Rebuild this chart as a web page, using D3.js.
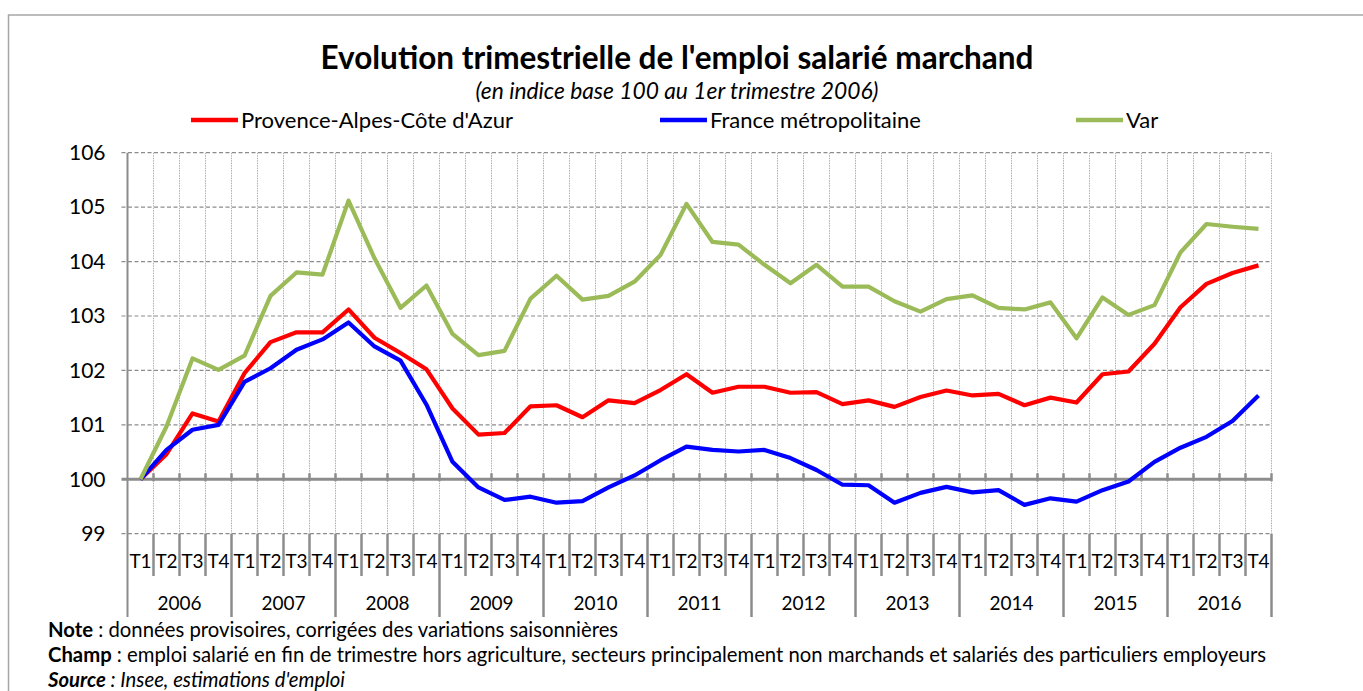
<!DOCTYPE html>
<html>
<head>
<meta charset="utf-8">
<script src="https://cdn.jsdelivr.net/npm/d3@7"></script>
<style>
  body { margin: 0; background: #fff; }
  svg { display: block; font-family: Lato, "Open Sans", sans-serif; }
</style>
</head>
<body>
<div id="chart"></div>
<script>
// Evolution trimestrielle de l'emploi salarié marchand, base 100 au T1 2006

const years = ["2006", "2007", "2008", "2009", "2010", "2011", "2012", "2013", "2014", "2015", "2016"]
const quarters = ["T1", "T2", "T3", "T4"]
const yTicks = [99, 100, 101, 102, 103, 104, 105, 106]

const paca = [
  100, 100.46, 101.21, 101.06,
  101.95, 102.52, 102.70, 102.70,
  103.12, 102.60, 102.32, 102.02,
  101.30, 100.82, 100.85, 101.34,
  101.36, 101.14, 101.45, 101.40,
  101.64, 101.93, 101.59, 101.70,
  101.70, 101.59, 101.60, 101.38,
  101.45, 101.33, 101.51, 101.63,
  101.54, 101.57, 101.36, 101.50,
  101.41, 101.93, 101.98, 102.49,
  103.16, 103.59, 103.79, 103.93]

const france = [
  100, 100.54, 100.91, 101.00,
  101.79, 102.04, 102.38, 102.57,
  102.88, 102.44, 102.18, 101.37,
  100.32, 99.85, 99.62, 99.68,
  99.57, 99.60, 99.85, 100.07,
  100.35, 100.60, 100.54, 100.51,
  100.54, 100.39, 100.17, 99.90,
  99.89, 99.57, 99.75, 99.86,
  99.76, 99.80, 99.53, 99.65,
  99.59, 99.80, 99.96, 100.32,
  100.58, 100.78, 101.07, 101.54]

const varDep = [
  100, 100.97, 102.22, 102.01,
  102.27, 103.37, 103.80, 103.76,
  105.12, 104.06, 103.15, 103.56,
  102.67, 102.28, 102.36, 103.32,
  103.74, 103.30, 103.37, 103.63,
  104.12, 105.06, 104.36, 104.31,
  103.94, 103.60, 103.94, 103.54,
  103.54, 103.27, 103.08, 103.31,
  103.38, 103.15, 103.12, 103.25,
  102.59, 103.34, 103.02, 103.20,
  104.17, 104.69, 104.64, 104.60]

const seriesNames = ["Provence-Alpes-Côte d'Azur", "France métropolitaine", "Var"]
const seriesColors = ["#ff0000", "#0000ff", "#9bbb59"]
const seriesValues = [paca, france, varDep]

const W = 1363, H = 691
const plot = {left: 127.5, right: 1271.5, top: 152.7, bottom: 533.7}

const svg = d3.select("#chart").append("svg")
    .attr("width", W)
    .attr("height", H)

// outer frame
svg.append("rect")
    .attr("x", 8.5).attr("y", 15)
    .attr("width", 1400).attr("height", 720)
    .style("fill", "none")
    .style("stroke", "#a6a6a6")
    .style("stroke-width", 1.5)

// category keys
const keys = []
years.forEach(y => quarters.forEach(q => keys.push(y + q)))

const x = d3.scaleBand()
    .domain(keys)
    .range([plot.left, plot.right])
    .padding(0)
const bw = x.bandwidth()
const xc = i => x(keys[i]) + bw / 2
const bound = d => d == "end" ? plot.right : x(d)
const bounds = keys.slice(1).concat(["end"])

const y = d3.scaleLinear()
    .domain([99, 106])
    .range([plot.bottom, plot.top])

// vertical dotted grid at quarter boundaries
svg.append("g")
    .selectAll("line")
    .data(bounds)
    .enter()
    .append("line")
    .attr("x1", bound)
    .attr("x2", bound)
    .attr("y1", plot.top)
    .attr("y2", plot.bottom)
    .style("stroke", "#b0b0b0")
    .style("stroke-width", 1)
    .style("stroke-dasharray", "1.5,1")

// horizontal dashed grid
svg.append("g")
    .selectAll("line")
    .data(yTicks.filter(d => d != 100))
    .enter()
    .append("line")
    .attr("x1", plot.left - 6)
    .attr("x2", plot.right)
    .attr("y1", d => y(d))
    .attr("y2", d => y(d))
    .style("stroke", "#8c8c8c")
    .style("stroke-width", 1.2)
    .style("stroke-dasharray", "4,2.5")

// y axis labels
const yAxis = svg.append("g")
    .attr("transform", "translate(" + plot.left + ",0)")
    .call(d3.axisLeft(y).tickValues(yTicks).tickSize(0).tickPadding(22).tickFormat(d3.format("d")))
yAxis.select(".domain").remove()
yAxis.selectAll("text")
    .style("font-size", "21px")
    .style("font-family", "Lato, sans-serif")
    .style("fill", "#000")

// y axis line, running down through the category labels
svg.append("line")
    .attr("x1", plot.left).attr("x2", plot.left)
    .attr("y1", plot.top).attr("y2", 617)
    .style("stroke", "#8c8c8c")
    .style("stroke-width", 2)

// axis at 100 with ticks
const y100 = y(100)
svg.append("line")
    .attr("x1", plot.left - 6).attr("x2", plot.right)
    .attr("y1", y100).attr("y2", y100)
    .style("stroke", "#8c8c8c")
    .style("stroke-width", 3)
svg.append("g")
    .selectAll("line")
    .data(bounds)
    .enter()
    .append("line")
    .attr("x1", bound)
    .attr("x2", bound)
    .attr("y1", y100 - 6)
    .attr("y2", y100 + 2)
    .style("stroke", "#8c8c8c")
    .style("stroke-width", 2.5)

// quarter separators below the plot, longer at year boundaries
svg.append("g")
    .selectAll("line")
    .data(bounds)
    .enter()
    .append("line")
    .attr("x1", bound)
    .attr("x2", bound)
    .attr("y1", plot.bottom)
    .attr("y2", d => (d == "end" || d.endsWith("T1")) ? 617 : 576)
    .style("stroke", "#8c8c8c")
    .style("stroke-width", 2.5)

// quarter labels
svg.append("g")
    .selectAll("text")
    .data(keys)
    .enter()
    .append("text")
    .attr("x", (d, i) => xc(i))
    .attr("y", 568)
    .attr("text-anchor", "middle")
    .style("font-size", "19px")
    .text(d => d.slice(4))

// year labels
svg.append("g")
    .selectAll("text")
    .data(years)
    .enter()
    .append("text")
    .attr("x", d => x(d + "T1") + bw * 2)
    .attr("y", 610)
    .attr("text-anchor", "middle")
    .style("font-size", "19px")
    .text(d => d)

// series lines
const line = d3.line()
    .x((d, i) => xc(i))
    .y(d => y(d))

svg.append("g")
    .selectAll("path")
    .data(seriesValues)
    .enter()
    .append("path")
    .attr("d", d => line(d))
    .style("fill", "none")
    .style("stroke", (d, i) => seriesColors[i])
    .style("stroke-width", 4.2)
    .style("stroke-linejoin", "round")

// title
svg.append("text")
    .attr("x", 677).attr("y", 69)
    .attr("text-anchor", "middle")
    .style("font-size", "31.5px")
    .style("font-weight", "bold")
    .text("Evolution trimestrielle de l'emploi salarié marchand")

svg.append("text")
    .attr("x", 677).attr("y", 99)
    .attr("text-anchor", "middle")
    .style("font-size", "22.8px")
    .style("font-style", "italic")
    .text("(en indice base 100 au 1er trimestre 2006)")

// legend
const legendX = [191, 660, 1076]
const legend = svg.append("g")
    .selectAll("g")
    .data(seriesNames)
    .enter()
    .append("g")
    .attr("transform", (d, i) => "translate(" + legendX[i] + ",120)")
legend.append("line")
    .attr("x1", 0).attr("x2", 47)
    .attr("y1", 0).attr("y2", 0)
    .style("stroke", (d, i) => seriesColors[i])
    .style("stroke-width", 4.5)
legend.append("text")
    .attr("x", 50).attr("y", 8)
    .style("font-size", "22px")
    .text(d => d)

// notes
const notes = svg.append("g").style("font-size", "20.3px")
const n1 = notes.append("text").attr("x", 48).attr("y", 637)
n1.append("tspan").style("font-weight", "bold").text("Note")
n1.append("tspan").text(" : données provisoires, corrigées des variations saisonnières")
const n2 = notes.append("text").attr("x", 48).attr("y", 662)
n2.append("tspan").style("font-weight", "bold").text("Champ")
n2.append("tspan").text(" : emploi salarié en fin de trimestre hors agriculture, secteurs principalement non marchands et salariés des particuliers employeurs")
const n3 = notes.append("text").attr("x", 48).attr("y", 687).style("font-style", "italic")
n3.append("tspan").style("font-weight", "bold").text("Source")
n3.append("tspan").text(" : Insee, estimations d'emploi")
</script>
</body>
</html>
